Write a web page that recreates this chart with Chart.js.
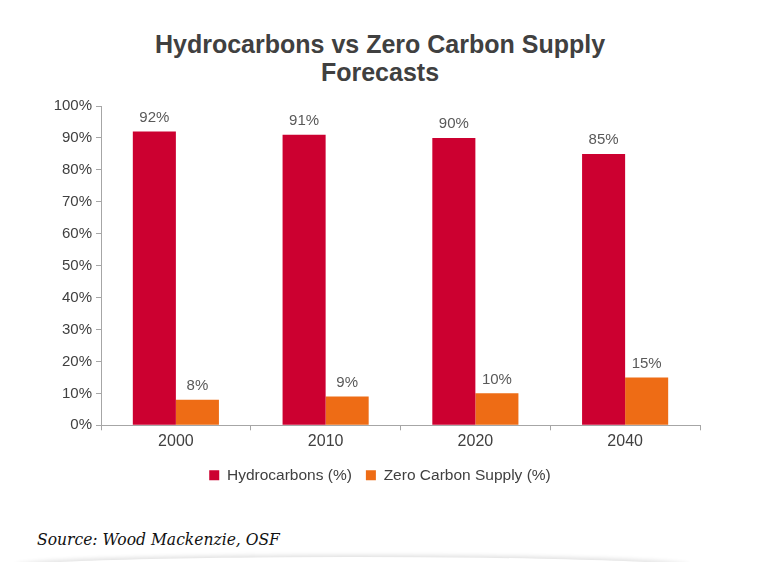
<!DOCTYPE html>
<html lang="en">

<head>
    <meta charset="UTF-8">
    <title>Hydrocarbons vs Zero Carbon Supply Forecasts</title>
    <script src="https://cdn.jsdelivr.net/npm/chart.js"></script>
    <style>
        body {
            margin: 0;
            padding: 0;
            background-color: #ffffff;
            width: 760px;
            height: 562px;
            overflow: hidden;
            position: relative;
        }

        .title {
            position: absolute;
            left: 0;
            top: 30px;
            width: 760px;
            text-align: center;
            font-family: 'Liberation Sans', Arial, sans-serif;
            font-weight: bold;
            font-size: 25px;
            line-height: 28px;
            color: #404040;
        }

        .chart-box {
            position: absolute;
            left: 0;
            top: 0;
            width: 760px;
            height: 500px;
        }

        .source {
            position: absolute;
            left: 37px;
            top: 529px;
            font-family: 'DejaVu Serif Condensed', 'DejaVu Serif', serif;
            font-stretch: condensed;
            font-style: italic;
            font-size: 17.3px;
            color: #111111;
        }

        .shadow {
            position: absolute;
            left: 15px;
            top: 557px;
            width: 675px;
            height: 10px;
            border-radius: 50% / 100% 100% 0 0;
            box-shadow: 0 -2px 4px rgba(0, 0, 0, 0.12);
        }
    </style>
</head>

<body>
    <div class="title">Hydrocarbons vs Zero Carbon Supply<br>Forecasts</div>
    <div class="chart-box">
        <canvas id="supplyChart"></canvas>
    </div>
    <div class="source">Source: Wood Mackenzie, OSF</div>
    <div class="shadow"></div>

    <script>
        const years = ['2000', '2010', '2020', '2040'];
        const hydrocarbons = [92, 91, 90, 85];
        const zeroCarbon = [8, 9, 10, 15];
        const yTicks = [0, 10, 20, 30, 40, 50, 60, 70, 80, 90, 100];

        const fontFamily = '"Liberation Sans", Arial, sans-serif';

        // percentage labels above every bar
        const barLabels = {
            id: 'barLabels',
            afterDatasetsDraw(chart) {
                const ctx = chart.ctx;
                ctx.save();
                ctx.font = '15px ' + fontFamily;
                ctx.fillStyle = '#595959';
                ctx.textAlign = 'center';
                ctx.textBaseline = 'middle';
                chart.data.datasets.forEach((ds, i) => {
                    chart.getDatasetMeta(i).data.forEach((bar, j) => {
                        ctx.fillText(ds.data[j] + '%', bar.x, bar.y - 14);
                    });
                });
                ctx.restore();
            }
        };

        const ctx = document.getElementById('supplyChart').getContext('2d');
        new Chart(ctx, {
            type: 'bar',
            data: {
                labels: years,
                datasets: [{
                    label: 'Hydrocarbons (%)',
                    data: hydrocarbons,
                    backgroundColor: '#CC0030'
                }, {
                    label: 'Zero Carbon Supply (%)',
                    data: zeroCarbon,
                    backgroundColor: '#EE6C15'
                }]
            },
            options: {
                responsive: true,
                maintainAspectRatio: false,
                animation: false,
                layout: {
                    padding: { left: 0, right: 0, top: 106, bottom: 7 }
                },
                datasets: {
                    bar: {
                        barPercentage: 1,
                        categoryPercentage: 0.575
                    }
                },
                scales: {
                    x: {
                        grid: {
                            drawOnChartArea: false,
                            drawTicks: true,
                            tickLength: 5,
                            color: '#A6A6A6'
                        },
                        border: { color: '#A6A6A6' },
                        ticks: {
                            color: '#404040',
                            font: { family: fontFamily, size: 16 },
                            padding: 2
                        }
                    },
                    y: {
                        min: 0,
                        max: 100,
                        afterBuildTicks(scale) {
                            scale.ticks = yTicks.map(v => ({ value: v }));
                        },
                        afterFit(scale) {
                            scale.width = 101;
                        },
                        grid: {
                            drawOnChartArea: false,
                            drawTicks: true,
                            tickLength: 5,
                            color: '#A6A6A6'
                        },
                        border: { color: '#A6A6A6' },
                        ticks: {
                            color: '#404040',
                            font: { family: fontFamily, size: 15 },
                            padding: 4,
                            callback: v => v + '%'
                        }
                    },
                    // empty right-hand spacer so the legend stays centred on the page
                    spacer: {
                        type: 'linear',
                        position: 'right',
                        display: true,
                        grid: { display: false },
                        border: { display: false },
                        ticks: { display: false },
                        afterFit(scale) {
                            scale.width = 60;
                        }
                    }
                },
                plugins: {
                    title: { display: false },
                    legend: {
                        position: 'bottom',
                        labels: {
                            color: '#404040',
                            font: { family: fontFamily, size: 15.5 },
                            boxWidth: 10,
                            boxHeight: 10,
                            padding: 14
                        }
                    },
                    tooltip: { enabled: false }
                }
            },
            plugins: [barLabels]
        });
    </script>
</body>

</html>
